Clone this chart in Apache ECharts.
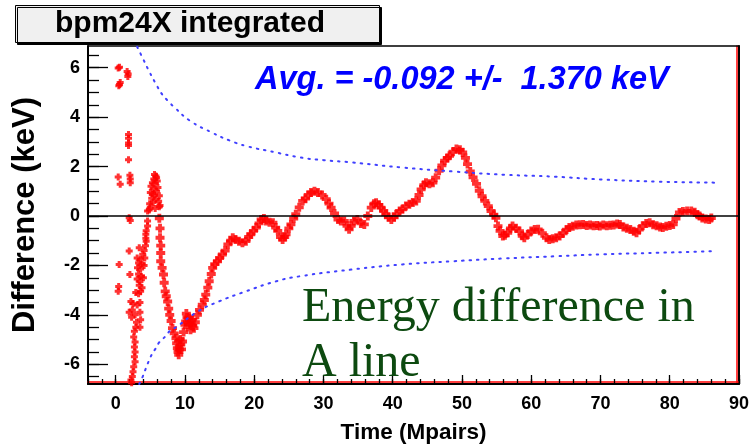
<!DOCTYPE html>
<html>
<head>
<meta charset="utf-8">
<script src="https://cdn.jsdelivr.net/npm/echarts@6/dist/echarts.min.js"></script>
<style>
html,body{margin:0;padding:0;background:#fff;}
#chart{width:749px;height:446px;}
</style>
</head>
<body>
<div id="chart"></div>
<script>
// ---- data ----
const xMajorStep = 10, xMinorStep = 2, yMajorStep = 2, yMinorStep = 0.5;
const xTickLabels = ['0', '10', '20', '30', '40', '50', '60', '70', '80', '90'];
const yTickLabels = ['-6', '-4', '-2', '0', '2', '4', '6'];

// early scattered points (Time, Difference)
const earlyPoints = [
  [0.36,5.99],[0.55,6.02],[1.65,5.85],[1.8,5.75],[1.75,5.65],[0.65,5.4],[0.45,5.27],[0.55,5.32],
  [1.85,3.3],[1.85,3.15],[1.85,2.95],[1.85,2.85],[1.85,2.28],
  [0.36,1.58],[0.65,1.28],[2.05,1.65],[2.1,1.5],[2.1,1.35],
  [5.6,1.68],[5.8,1.62],[5.9,1.55],[5.5,1.5],[6.0,1.42],[5.3,1.35],[5.7,1.32],[5.1,1.2],[6.1,1.15],
  [5.5,1.1],[5.9,1.0],[5.0,0.95],[5.3,0.9],[5.6,0.85],[6.3,0.82],[5.2,0.72],[5.8,0.68],[6.2,0.6],
  [5.4,0.55],[4.9,0.5],[6.4,0.42],[5.0,0.35],[6.3,0.37],[4.84,0.24],[4.6,0.2],[5.7,0.3],
  [1.95,-0.07],[2.1,-0.18],[4.6,-0.2],[4.6,-0.41],[4.4,-0.6],[4.35,-0.74],[4.35,-0.9],[4.4,-1.02],
  [4.3,-1.2],[1.95,-1.42],[3.4,-1.29],[4.1,-1.4],[3.9,-1.55],[3.1,-1.7],[3.6,-1.75],[4.2,-1.7],
  [3.3,-1.9],[3.8,-1.95],[0.5,-1.96],[3.15,-2.1],[3.6,-2.15],[4.1,-2.0],[2.05,-2.37],[3.3,-2.35],
  [3.7,-2.45],[3.1,-2.55],[3.5,-2.65],[4.0,-2.5],[3.4,-2.8],[3.8,-2.9],[0.43,-2.85],[0.36,-3.05],
  [3.6,-3.05],[3.3,-3.15],[2.9,-3.1],[2.2,-3.46],[3.1,-3.6],[2.5,-3.55],[3.5,-3.5],[1.95,-3.9],
  [2.4,-3.8],[3.5,-3.9],[2.8,-4.0],[3.6,-4.2],[2.3,-4.1],[3.0,-4.3],[3.5,-4.5],[2.7,-4.67],
  [2.9,-4.5],[2.6,-4.9],[2.8,-5.1],[2.7,-5.3],[2.8,-5.5],[2.7,-5.7],[2.8,-5.9],[2.6,-6.1],
  [2.5,-6.3],[2.4,-6.5],[2.2,-6.64],[2.3,-6.75]
];

// main trace (Time, Difference)
const mainPoints = [
  [6.3,-0.09],[6.4,-0.5],[6.4,-0.88],[6.5,-1.2],[6.5,-1.5],[6.5,-1.83],[6.7,-2.1],[6.9,-2.37],
  [7.0,-2.7],[7.15,-3.05],[7.3,-3.25],[7.5,-3.46],[7.65,-3.75],[7.8,-4.0],[8.0,-4.25],[8.2,-4.54],
  [8.45,-4.75],[8.7,-4.95],[8.8,-5.15],[8.9,-5.35],[9.0,-5.5],[9.1,-5.62],[9.2,-5.4],[9.3,-5.0],
  [9.5,-5.4],[9.4,-5.2],[9.65,-5.08],[9.8,-4.7],[10.0,-4.4],[10.1,-4.27],[10.2,-3.95],[10.3,-4.1],
  [10.5,-4.4],[10.6,-4.13],[10.8,-4.6],[10.9,-4.3],[11.0,-4.2],[11.1,-4.45],[11.3,-4.54],[11.5,-4.3],
  [11.8,-4.0],[12.1,-3.8],[12.5,-3.59],[12.8,-3.4],[13.0,-3.18],[13.3,-2.9],[13.5,-2.64],[13.8,-2.35],
  [14.0,-2.1],[14.3,-1.95],[14.7,-1.83],[15.0,-1.7],[15.4,-1.56],[15.8,-1.4],[16.2,-1.15],[16.6,-1.0],
  [16.9,-0.88],[17.3,-0.95],[17.8,-1.02],[18.3,-1.08],[18.8,-1.02],[19.2,-0.85],[19.5,-0.74],[19.9,-0.6],
  [20.3,-0.47],[20.7,-0.3],[21.0,-0.14],[21.4,-0.1],[21.7,-0.2],[22.2,-0.25],[22.7,-0.27],[23.1,-0.47],
  [23.4,-0.6],[23.8,-0.85],[24.1,-0.95],[24.4,-0.85],[24.6,-0.74],[25.0,-0.5],[25.3,-0.34],[25.7,-0.1],
  [26.0,0.07],[26.5,0.35],[27.0,0.61],[27.4,0.7],[27.8,0.85],[28.2,0.95],[28.7,1.0],[29.2,0.95],
  [29.8,0.85],[30.4,0.68],[30.8,0.5],[31.1,0.34],[31.6,0.1],[32.1,-0.14],[32.5,-0.2],[33.0,-0.2],
  [33.4,-0.4],[33.7,-0.54],[34.0,-0.4],[34.4,-0.2],[34.9,-0.14],[35.4,-0.3],[35.9,-0.34],[36.4,0.0],
  [36.9,0.34],[37.3,0.5],[37.6,0.54],[38.0,0.45],[38.3,0.34],[38.7,0.2],[39.0,0.07],[39.4,-0.05],
  [39.8,-0.14],[40.2,-0.05],[40.5,0.07],[41.0,0.2],[41.4,0.27],[41.9,0.4],[42.4,0.48],[42.9,0.55],
  [43.4,0.61],[43.8,0.85],[44.1,1.08],[44.5,1.25],[44.8,1.35],[45.3,1.3],[45.8,1.35],[46.2,1.55],
  [46.7,1.83],[47.1,2.05],[47.5,2.24],[47.9,2.35],[48.2,2.44],[48.7,2.6],[49.2,2.71],[49.7,2.68],
  [50.1,2.57],[50.5,2.35],[50.8,2.1],[51.2,1.8],[51.6,1.56],[52.1,1.3],[52.5,1.02],[52.9,0.8],
  [53.3,0.61],[53.8,0.4],[54.2,0.2],[54.6,0.05],[54.9,-0.07],[55.2,-0.41],[55.5,-0.6],[55.9,-0.81],
  [56.2,-0.78],[56.6,-0.68],[57.0,-0.5],[57.3,-0.41],[57.8,-0.5],[58.3,-0.61],[58.7,-0.8],[59.0,-0.88],
  [59.5,-0.75],[60.0,-0.61],[60.5,-0.55],[61.0,-0.54],[61.6,-0.7],[62.2,-0.88],[62.6,-0.95],[63.1,-0.92],
  [63.6,-0.88],[64.1,-0.81],[64.6,-0.7],[65.1,-0.55],[65.5,-0.47],[66.0,-0.42],[66.5,-0.36],[67.0,-0.35],
  [67.5,-0.34],[68.0,-0.38],[68.5,-0.36],[69.0,-0.4],[69.5,-0.38],[69.9,-0.41],[70.4,-0.36],[70.9,-0.4],
  [71.4,-0.37],[71.9,-0.36],[72.4,-0.32],[72.8,-0.34],[73.3,-0.45],[73.8,-0.5],[74.3,-0.55],[74.8,-0.62],
  [75.2,-0.68],[75.6,-0.55],[76.1,-0.4],[76.6,-0.3],[77.1,-0.27],[77.6,-0.35],[78.1,-0.4],[78.6,-0.45],
  [79.0,-0.47],[79.5,-0.42],[80.0,-0.38],[80.5,-0.34],[80.9,-0.1],[81.4,0.14],[81.9,0.18],[82.5,0.2],
  [83.1,0.2],[83.6,0.15],[84.0,0.05],[84.3,0.0],[84.7,-0.08],[85.2,-0.12],[85.7,-0.14],[86.0,-0.08]
];

// error envelope (dotted blue)
const upperX = [3.1, 4.0, 4.84, 5.7, 6.76, 7.5, 8.4, 10.7, 13.8, 16.5, 19.0, 23.0, 26.6, 30.0, 34.0, 41.4, 48.8, 56.1, 63.5, 70.0, 78.3, 86.4];
const upperY = [6.85, 6.33, 5.85, 5.4, 4.9, 4.67, 4.42, 3.86, 3.39, 3.05, 2.82, 2.58, 2.37, 2.26, 2.17, 1.96, 1.80, 1.67, 1.59, 1.48, 1.39, 1.35];
const lowerX = [3.4, 3.9, 4.35, 4.84, 5.3, 5.8, 6.3, 7.15, 8.0, 8.5, 11.9, 14.9, 18.8, 23.2, 26.6, 34.0, 41.4, 48.8, 56.0, 63.5, 70.5, 78.3, 86.6];
const lowerY = [-6.8, -6.5, -6.17, -5.83, -5.56, -5.35, -5.11, -4.88, -4.6, -4.54, -3.86, -3.46, -3.05, -2.64, -2.44, -2.17, -1.96, -1.83, -1.72, -1.63, -1.55, -1.49, -1.42];

const titleText = 'bpm24X integrated';
const avgText = 'Avg. = -0.092 +/-  1.370 keV';
const noteText = 'Energy difference in\nA line';

// ---- layout ----
const W = 749, H = 446;
const PL = 88, PR = 739, PT = 46, PB = 384;          // plot frame (px)
const X_MIN = -4, X_MAX = 90, Y_MIN = -6.8, Y_MAX = 6.88;
const xPx = v => PL + (v - X_MIN) / (X_MAX - X_MIN) * (PR - PL);
const yPx = v => PT + (Y_MAX - v) / (Y_MAX - Y_MIN) * (PB - PT);
// sub-grids so that ticks start on round values while sharing the same scale
const xMajMin = 0, xMajMax = 90;
const yMajMin = -6, yMajMax = 6;
const yMinMin = -6.5, yMinMax = 6.5;

const sans = '"Liberation Sans", Arial, Helvetica, sans-serif';
const labelStyle = {fontFamily: sans, fontWeight: 'bold', fontSize: 18, color: '#000'};
const markerPath = 'path://M2,0H5V2H7V5H5V7H2V5H0V2H2Z';
const tickStyle = {color: '#000', width: 1.3};

function zip(xs, ys) { return xs.map((x, i) => [x, ys[i]]); }
function line(color, width) { return {show: true, onZero: false, lineStyle: {color: color, width: width}}; }
const noLine = {show: false, onZero: false};
const hidden = {show: false};
function gridBox(l, r, t, b) {
  return {left: l, right: W - r, top: t, bottom: H - b, containLabel: false, outerBoundsMode: 'none'};
}

const chart = echarts.init(document.getElementById('chart'), null, {renderer: 'canvas'});

chart.setOption({
  animation: false,
  backgroundColor: '#fff',
  title: [
    {
      text: titleText, left: 15, top: 5,
      padding: [4, 55, 4, 40],
      backgroundColor: '#f0f0f0', borderColor: '#000', borderWidth: 1,
      shadowColor: '#000', shadowOffsetX: 2, shadowOffsetY: 2, shadowBlur: 0,
      textStyle: {fontFamily: sans, fontWeight: 'bold', fontSize: 30, lineHeight: 30, color: '#000'}
    },
    {
      text: avgText, left: 250, top: 59,
      textStyle: {fontFamily: sans, fontWeight: 'bold', fontStyle: 'italic', fontSize: 32.5, color: '#0000ff'}
    },
    {
      text: noteText, left: 297, top: 276,
      textStyle: {fontFamily: '"Liberation Serif", "Times New Roman", serif', fontWeight: 'normal', fontSize: 48, lineHeight: 55, color: '#0d4a10'}
    }
  ],
  grid: [
    gridBox(PL, PR, PT, PB),                         // 0 main
    gridBox(xPx(xMajMin), PR, PT, PB),               // 1 x major ticks
    gridBox(PL, PR, yPx(yMajMax), yPx(yMajMin)),     // 2 y major ticks
    gridBox(PL, PR, yPx(yMinMax), yPx(yMinMin))      // 3 y minor ticks
  ],
  xAxis: [
    { // 0 main: minor ticks every 2, frame line, title
      type: 'value', gridIndex: 0, min: X_MIN, max: X_MAX, interval: xMinorStep,
      position: 'bottom', splitLine: hidden,
      name: 'Time (Mpairs)', nameLocation: 'middle', nameGap: 37,
      nameTextStyle: {fontFamily: sans, fontWeight: 'bold', fontSize: 22.5, color: '#000'},
      axisLine: line('#000', 2),
      axisTick: {show: true, inside: true, length: 5, lineStyle: tickStyle},
      axisLabel: hidden
    },
    { // 1 major ticks + labels
      type: 'value', gridIndex: 1, min: xMajMin, max: xMajMax, interval: xMajorStep,
      position: 'bottom', splitLine: hidden,
      axisLine: noLine,
      axisTick: {show: true, inside: true, length: 9, lineStyle: tickStyle},
      axisLabel: Object.assign({show: true, margin: 11, formatter: (v, i) => xTickLabels[i]}, labelStyle)
    },
    { // 2 dummy for grid 2
      type: 'value', gridIndex: 2, min: X_MIN, max: X_MAX, show: false
    },
    { // 3 dummy for grid 3
      type: 'value', gridIndex: 3, min: X_MIN, max: X_MAX, show: false
    },
    { // 4 top frame
      type: 'value', gridIndex: 0, min: X_MIN, max: X_MAX, position: 'top', splitLine: hidden,
      axisLine: line('#000', 1.5), axisTick: hidden, axisLabel: hidden
    },
    { // 5 red inner bottom line
      type: 'value', gridIndex: 0, min: X_MIN, max: X_MAX, position: 'bottom', offset: -2, splitLine: hidden,
      axisLine: line('#ff0000', 1.5), axisTick: hidden, axisLabel: hidden
    }
  ],
  yAxis: [
    { // 0 main: left frame line + title
      type: 'value', gridIndex: 0, min: Y_MIN, max: Y_MAX, position: 'left', splitLine: hidden,
      name: 'Difference (keV)', nameLocation: 'middle', nameGap: 47, nameRotate: 90,
      nameTextStyle: {fontFamily: sans, fontWeight: 'bold', fontSize: 31, color: '#000'},
      axisLine: line('#000', 2), axisTick: hidden, axisLabel: hidden
    },
    { // 1 dummy for grid 1
      type: 'value', gridIndex: 1, min: Y_MIN, max: Y_MAX, show: false
    },
    { // 2 major ticks + labels
      type: 'value', gridIndex: 2, min: yMajMin, max: yMajMax, interval: yMajorStep,
      position: 'left', splitLine: hidden, axisLine: noLine,
      axisTick: {show: true, inside: true, length: 20, lineStyle: tickStyle},
      axisLabel: Object.assign({show: true, margin: 8, formatter: (v, i) => yTickLabels[i]}, labelStyle)
    },
    { // 3 minor ticks
      type: 'value', gridIndex: 3, min: yMinMin, max: yMinMax, interval: yMinorStep,
      position: 'left', splitLine: hidden, axisLine: noLine,
      axisTick: {show: true, inside: true, length: 11, lineStyle: tickStyle},
      axisLabel: hidden
    },
    { // 4 right frame
      type: 'value', gridIndex: 0, min: Y_MIN, max: Y_MAX, position: 'right', splitLine: hidden,
      axisLine: line('#000', 2), axisTick: hidden, axisLabel: hidden
    },
    { // 5 red inner right line
      type: 'value', gridIndex: 0, min: Y_MIN, max: Y_MAX, position: 'right', offset: -2, splitLine: hidden,
      axisLine: line('#ff0000', 1.5), axisTick: hidden, axisLabel: hidden
    }
  ],
  series: [
    {
      type: 'line', name: 'upper', data: zip(upperX, upperY), smooth: true, symbol: 'none',
      xAxisIndex: 0, yAxisIndex: 0, clip: true,
      lineStyle: {color: '#4040ff', width: 2, type: [1.5, 6], cap: 'round'},
      markLine: {
        silent: true, symbol: ['none', 'none'], label: {show: false},
        lineStyle: {color: '#000', width: 1.5, type: 'solid'},
        data: [{yAxis: 0}]
      }
    },
    {
      type: 'line', name: 'lower', data: zip(lowerX, lowerY), smooth: true, symbol: 'none',
      xAxisIndex: 0, yAxisIndex: 0, clip: true,
      lineStyle: {color: '#4040ff', width: 2, type: [1.5, 6], cap: 'round'}
    },
    {
      type: 'scatter', name: 'early', data: earlyPoints, xAxisIndex: 0, yAxisIndex: 0,
      symbol: markerPath, symbolSize: 7,
      itemStyle: {color: '#ff0000'}
    },
    {
      type: 'scatter', name: 'main', data: mainPoints, xAxisIndex: 0, yAxisIndex: 0,
      symbol: markerPath, symbolSize: 9,
      itemStyle: {color: '#ff0000'}
    }
  ]
});
</script>
</body>
</html>
